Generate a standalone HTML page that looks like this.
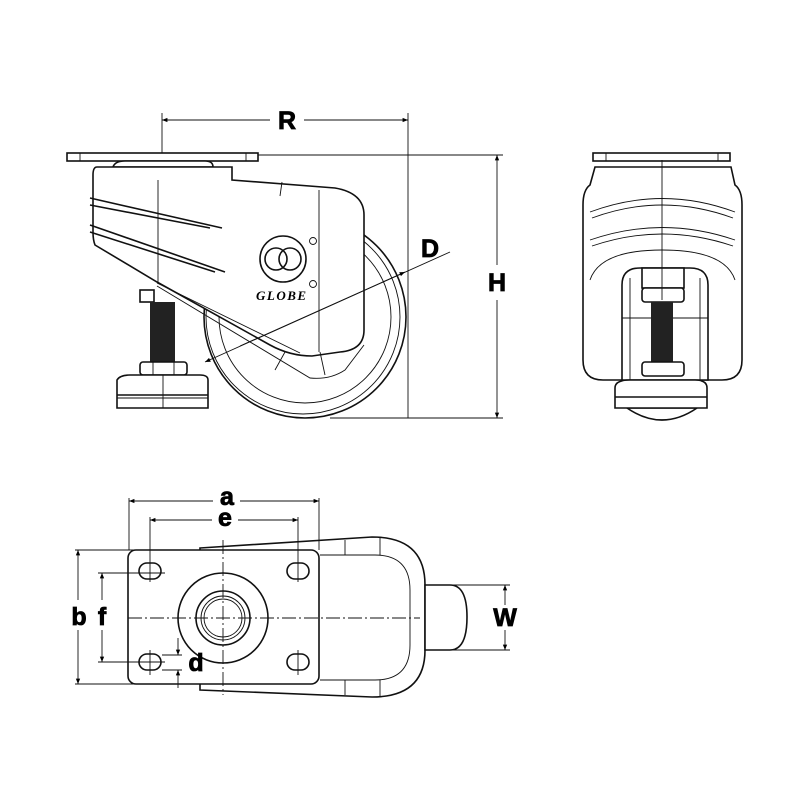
<!DOCTYPE html>
<html><head><meta charset="utf-8"><style>
html,body{margin:0;padding:0;background:#fff}
svg{display:block}
.l{fill:none;stroke:#111;stroke-width:1.6}
.t{fill:none;stroke:#111;stroke-width:0.9}
.w{fill:#fff;stroke:#111;stroke-width:1.6}
.lab{font-family:"Liberation Sans",sans-serif;font-weight:bold;font-size:25px;fill:#000;stroke:#000;stroke-width:0.8}
</style></head><body>
<svg width="800" height="800" viewBox="0 0 800 800" xmlns="http://www.w3.org/2000/svg">
<defs>
<marker id="a" viewBox="0 0 10 10" refX="10" refY="5" markerWidth="8" markerHeight="6" orient="auto-start-reverse"><path d="M0,1 L10,5 L0,9z" fill="#000"/></marker>
</defs>

<!-- SIDE VIEW -->
<circle class="w" cx="305" cy="317" r="101"/>
<circle class="t" cx="303" cy="317" r="97"/>
<circle class="t" cx="305" cy="317" r="86"/>
<rect class="w" x="67" y="153" width="191" height="8"/>
<line class="t" x1="80" y1="153" x2="80" y2="161"/><line class="t" x1="246" y1="153" x2="246" y2="161"/>
<path class="w" d="M113,167 Q115,161 125,161 L205,161 Q213,161 213,167z"/>
<path class="w" d="M97,167 L232,167 L232,180 L335,188 Q364,193 364,215 L364,330 Q364,350 340,352 L312,356 Q290,356 270,345 L157,282 L95,245 Q93,240 93,232 L93,175 Q93,167 97,167z"/>
<line class="t" x1="158" y1="180" x2="158" y2="282"/>
<line class="t" x1="319" y1="190" x2="319" y2="352"/>
<line class="t" x1="282" y1="182" x2="280" y2="196"/>
<path class="t" d="M157,283 L300,353 M285,352 L275,370 M320,352 L325,375"/>
<path class="t" d="M157,286 L310,378 Q330,380 345,370 L364,345"/>
<path class="l" d="M90,198 L222,228 M90,205 L210,228 M90,225 L225,272 M90,232 L215,272"/>
<circle class="l" cx="283" cy="259" r="23"/>
<circle class="l" cx="276" cy="259" r="11"/><circle class="l" cx="290" cy="259" r="11"/>
<circle class="t" cx="313" cy="241" r="3.5"/><circle class="t" cx="313" cy="284" r="3.5"/>
<text x="256" y="300" font-family="Liberation Serif,serif" font-style="italic" font-weight="bold" font-size="13" letter-spacing="1.5" fill="#000">GLOBE</text>
<rect class="w" x="140" y="290" width="14" height="12"/>
<rect x="150" y="302" width="25" height="60" fill="#222"/>
<rect class="w" x="140" y="362" width="47" height="13" rx="3"/>
<line class="t" x1="153" y1="362" x2="153" y2="375"/><line class="t" x1="174" y1="362" x2="174" y2="375"/>
<path class="w" d="M117,380 Q120,375 130,375 L200,375 Q208,375 208,380 L208,408 L117,408z"/>
<line class="l" x1="117" y1="395" x2="208" y2="395"/><line class="t" x1="117" y1="398" x2="208" y2="398"/>
<line class="t" x1="163" y1="375" x2="163" y2="408"/>
<line class="t" x1="162" y1="113" x2="162" y2="153"/>
<line class="t" x1="408" y1="113" x2="408" y2="418"/>
<line class="t" x1="162" y1="120" x2="270" y2="120" marker-start="url(#a)"/>
<line class="t" x1="304" y1="120" x2="408" y2="120" marker-end="url(#a)"/>
<text class="lab" x="287" y="129" text-anchor="middle">R</text>
<line class="t" x1="258" y1="155" x2="503" y2="155"/>
<line class="t" x1="330" y1="418" x2="503" y2="418"/>
<line class="t" x1="497" y1="155" x2="497" y2="265" marker-start="url(#a)"/>
<line class="t" x1="497" y1="300" x2="497" y2="418" marker-end="url(#a)"/>
<text class="lab" x="497" y="291" text-anchor="middle">H</text>
<line class="t" x1="205" y1="362" x2="450" y2="252" marker-start="url(#a)"/>
<line class="t" x1="240" y1="346" x2="405" y2="272" marker-end="url(#a)"/>
<text class="lab" x="430" y="257" text-anchor="middle">D</text>

<!-- FRONT VIEW -->
<path class="w" d="M627,408 Q662,432 697,408z"/>
<rect class="w" x="593" y="153" width="137" height="8"/>
<line class="t" x1="606" y1="153" x2="606" y2="161"/><line class="t" x1="718" y1="153" x2="718" y2="161"/>
<path class="w" d="M595,167 L731,167 L735,185 Q742,190 742,205 L742,360 Q742,380 722,380 L603,380 Q583,380 583,360 L583,205 Q583,190 590,185z"/>
<path class="t" d="M590,212 Q662,185 735,212 M592,218 Q662,192 733,218 M590,240 Q662,215 735,240 M592,246 Q662,222 733,246 M590,280 Q600,250 662,250 Q725,250 735,280"/>
<path class="w" d="M622,380 L622,285 Q622,268 640,268 L690,268 Q708,268 708,285 L708,380z"/>
<line class="t" x1="630" y1="278" x2="630" y2="380"/><line class="t" x1="700" y1="278" x2="700" y2="380"/>
<line class="t" x1="622" y1="318" x2="708" y2="318"/>
<rect class="w" x="642" y="268" width="42" height="20"/>
<rect class="w" x="642" y="288" width="42" height="14" rx="3"/>
<rect x="651" y="302" width="22" height="60" fill="#222"/>
<rect class="w" x="642" y="362" width="42" height="14" rx="3"/>
<line class="t" x1="662" y1="160" x2="662" y2="300"/>
<path class="w" d="M615,388 Q615,380 630,380 L695,380 Q707,380 707,388 L707,408 L615,408z"/>
<line class="l" x1="615" y1="397" x2="707" y2="397"/>

<!-- TOP VIEW -->
<path class="w" d="M200,548 L372,537 Q425,537 425,585 L425,650 Q425,697 372,697 L200,690z"/>
<path class="t" d="M320,555 L375,555 Q410,555 410,590 L410,645 Q410,680 375,680 L320,680"/>
<line class="t" x1="345" y1="540" x2="345" y2="555"/><line class="t" x1="380" y1="537" x2="380" y2="555"/>
<line class="t" x1="345" y1="680" x2="345" y2="695"/><line class="t" x1="380" y1="680" x2="380" y2="697"/>
<path class="w" d="M425,585 L450,585 Q467,585 467,617 Q467,650 450,650 L425,650z"/>
<rect class="w" x="128" y="550" width="191" height="134" rx="8"/>
<circle class="l" cx="223" cy="618" r="45"/>
<circle class="l" cx="223" cy="618" r="27"/>
<circle class="t" cx="223" cy="618" r="22"/>
<circle class="t" cx="223" cy="618" r="19"/>
<g class="l">
<rect x="139" y="563" width="22" height="16" rx="8"/><rect x="287" y="563" width="22" height="16" rx="8"/>
<rect x="139" y="654" width="22" height="16" rx="8"/><rect x="287" y="654" width="22" height="16" rx="8"/>
</g>
<line class="t" x1="128" y1="618" x2="420" y2="618" stroke-dasharray="14,3,2,3"/>
<line class="t" x1="223" y1="540" x2="223" y2="695" stroke-dasharray="14,3,2,3"/>
<line class="t" x1="150" y1="517" x2="150" y2="582"/><line class="t" x1="298" y1="517" x2="298" y2="582"/>
<line class="t" x1="150" y1="650" x2="150" y2="675"/><line class="t" x1="298" y1="650" x2="298" y2="675"/>
<line class="t" x1="129" y1="498" x2="129" y2="550"/><line class="t" x1="319" y1="498" x2="319" y2="550"/>
<line class="t" x1="129" y1="501" x2="213" y2="501" marker-start="url(#a)"/>
<line class="t" x1="240" y1="501" x2="319" y2="501" marker-end="url(#a)"/>
<text class="lab" x="227" y="505" text-anchor="middle">a</text>
<line class="t" x1="150" y1="520" x2="212" y2="520" marker-start="url(#a)"/>
<line class="t" x1="238" y1="520" x2="298" y2="520" marker-end="url(#a)"/>
<text class="lab" x="225" y="526" text-anchor="middle">e</text>
<line class="t" x1="75" y1="550" x2="135" y2="550"/><line class="t" x1="75" y1="684" x2="135" y2="684"/>
<line class="t" x1="78" y1="550" x2="78" y2="600" marker-start="url(#a)"/>
<line class="t" x1="78" y1="630" x2="78" y2="684" marker-end="url(#a)"/>
<text class="lab" x="79" y="625" text-anchor="middle">b</text>
<line class="t" x1="98" y1="573" x2="165" y2="573"/><line class="t" x1="98" y1="662" x2="165" y2="662"/>
<line class="t" x1="102" y1="573" x2="102" y2="600" marker-start="url(#a)"/>
<line class="t" x1="102" y1="630" x2="102" y2="662" marker-end="url(#a)"/>
<text class="lab" x="102" y="625" text-anchor="middle">f</text>
<line class="t" x1="162" y1="655" x2="182" y2="655"/><line class="t" x1="162" y1="670" x2="182" y2="670"/>
<line class="t" x1="178" y1="638" x2="178" y2="655" marker-end="url(#a)"/>
<line class="t" x1="178" y1="688" x2="178" y2="670" marker-end="url(#a)"/>
<text class="lab" x="196" y="671" text-anchor="middle">d</text>
<line class="t" x1="450" y1="585" x2="510" y2="585"/><line class="t" x1="450" y1="650" x2="510" y2="650"/>
<line class="t" x1="505" y1="585" x2="505" y2="605" marker-start="url(#a)"/>
<line class="t" x1="505" y1="630" x2="505" y2="650" marker-end="url(#a)"/>
<text class="lab" x="505" y="626" text-anchor="middle">W</text>
</svg>
</body></html>
